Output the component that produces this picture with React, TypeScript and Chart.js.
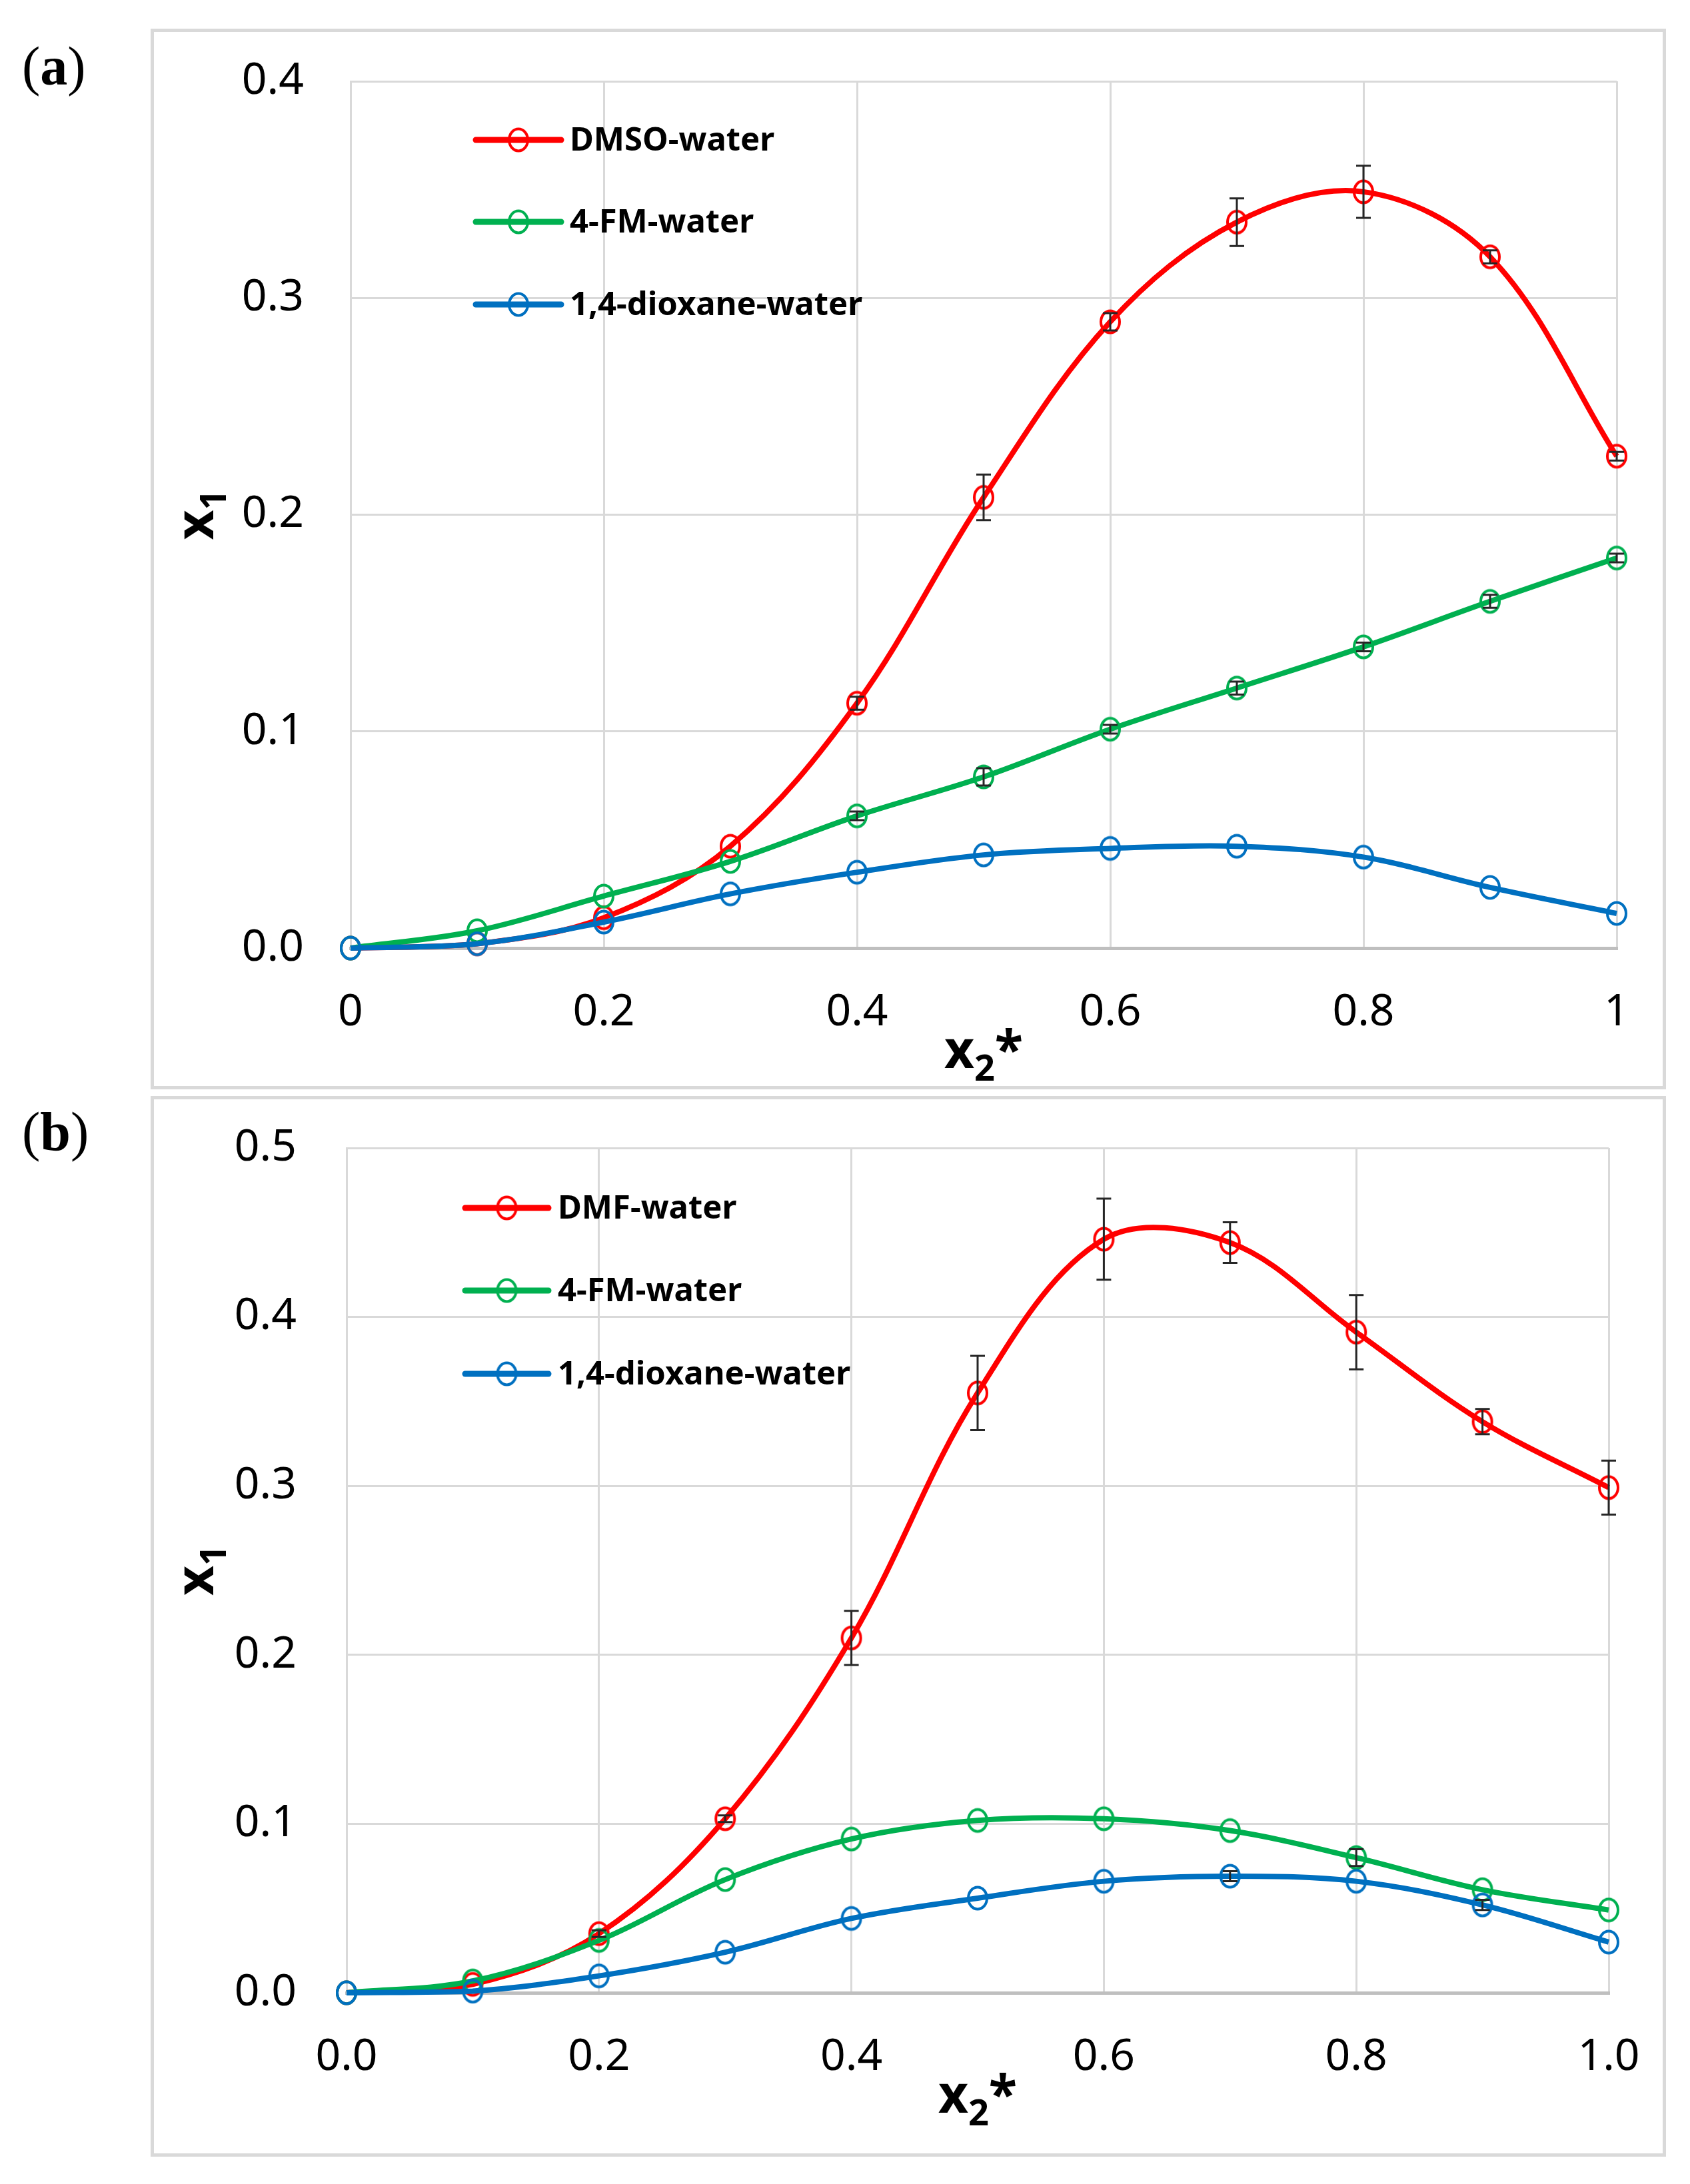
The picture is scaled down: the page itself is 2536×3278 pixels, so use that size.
import { useEffect, useRef } from 'react'
import { Chart, ChartConfiguration, registerables } from 'chart.js'

Chart.register(...registerables)

const FONT = '"Noto Sans", "DejaVu Sans", sans-serif'

// mole fraction of co-solvent (salt-free basis)
const x2Values = [0, 0.1, 0.2, 0.3, 0.4, 0.5, 0.6, 0.7, 0.8, 0.9, 1.0]

// panel (a)
const dmsoWater = [0, 0.002, 0.014, 0.047, 0.113, 0.208, 0.289, 0.335, 0.349, 0.319, 0.227]
const dmsoErr = [0, 0, 0, 0, 0.003, 0.0105, 0.004, 0.011, 0.012, 0.003, 0.002]
const fmWaterA = [0, 0.008, 0.024, 0.040, 0.061, 0.079, 0.101, 0.120, 0.139, 0.160, 0.180]
const fmErrA = [0, 0, 0, 0, 0.002, 0.004, 0.002, 0.003, 0.002, 0.003, 0.002]
const dioxaneWaterA = [0, 0.002, 0.012, 0.025, 0.035, 0.043, 0.046, 0.047, 0.042, 0.028, 0.016]
const dioxaneErrA = [0, 0, 0, 0, 0, 0, 0, 0, 0, 0, 0]

// panel (b)
const dmfWater = [0, 0.005, 0.035, 0.103, 0.210, 0.355, 0.446, 0.444, 0.391, 0.338, 0.299]
const dmfErr = [0, 0, 0.002, 0.002, 0.016, 0.022, 0.024, 0.012, 0.022, 0.0075, 0.016]
const fmWaterB = [0, 0.007, 0.031, 0.067, 0.091, 0.102, 0.103, 0.096, 0.080, 0.061, 0.049]
const fmErrB = [0, 0, 0, 0, 0, 0, 0, 0, 0.005, 0, 0]
const dioxaneWaterB = [0, 0.001, 0.010, 0.024, 0.044, 0.056, 0.066, 0.069, 0.066, 0.052, 0.030]
const dioxaneErrB = [0, 0, 0, 0, 0, 0, 0, 0.003, 0, 0.003, 0]

const RED = '#ff0000'
const GREEN = '#00b050'
const BLUE = '#0070c0'

interface Series {
  label: string
  values: number[]
  errors: number[]
  color: string
}

interface PanelLayout {
  yWidth: number
  xHeight: number
  padTop: number
  padRight: number
  yPad: number
  legendX: number
  legendRows: number[]
  legendLine: number
  legendText: number
}

// hollow, slightly tall ring marker (the figure is stretched vertically)
const markerCache: Record<string, HTMLCanvasElement> = {}
function ringMarker(color: string) {
  if (markerCache[color]) return markerCache[color]
  const c = document.createElement('canvas')
  c.width = 40
  c.height = 44
  const g = c.getContext('2d')!
  g.strokeStyle = color
  g.lineWidth = 4
  g.beginPath()
  g.ellipse(20, 22, 14, 16.5, 0, 0, Math.PI * 2)
  g.stroke()
  markerCache[color] = c
  return c
}

// error bars drawn from the scales
const errorBarPlugin = {
  id: 'errorBars',
  afterDatasetsDraw(chart: Chart) {
    const ctx = chart.ctx
    const xs = chart.scales.x
    const ys = chart.scales.y
    ctx.save()
    ctx.strokeStyle = '#262626'
    ctx.lineWidth = 3
    chart.data.datasets.forEach((ds: any) => {
      const errs: number[] = ds.errors || []
      ds.data.forEach((p: any, i: number) => {
        const e = errs[i]
        if (!e) return
        const px = xs.getPixelForValue(p.x)
        const top = ys.getPixelForValue(p.y + e)
        const bot = ys.getPixelForValue(p.y - e)
        ctx.beginPath()
        ctx.moveTo(px, top)
        ctx.lineTo(px, bot)
        ctx.moveTo(px - 11, top)
        ctx.lineTo(px + 11, top)
        ctx.moveTo(px - 11, bot)
        ctx.lineTo(px + 11, bot)
        ctx.stroke()
      })
    })
    ctx.restore()
  },
}

// legend inside the plot area, Excel style (line with a hollow marker)
const insideLegendPlugin = {
  id: 'insideLegend',
  afterDraw(chart: Chart, _args: any, opts: any) {
    const ctx = chart.ctx
    const ca = chart.chartArea
    ctx.save()
    chart.data.datasets.forEach((ds: any, i: number) => {
      const y = ca.top + opts.rows[i]
      const x0 = ca.left + opts.x
      ctx.strokeStyle = ds.borderColor
      ctx.lineWidth = 9
      ctx.lineCap = 'round'
      ctx.beginPath()
      ctx.moveTo(x0, y)
      ctx.lineTo(x0 + opts.line, y)
      ctx.stroke()
      const m = ringMarker(ds.borderColor)
      ctx.drawImage(m, x0 + opts.line / 2 - m.width / 2, y - m.height / 2)
      ctx.fillStyle = '#000'
      ctx.font = `bold 49px ${FONT}`
      ctx.textBaseline = 'middle'
      ctx.textAlign = 'left'
      ctx.fillText(ds.label, x0 + opts.text, y + 2)
    })
    ctx.restore()
  },
}

// axis titles with sub-scripts: x1 and x2*
const axisTitlePlugin = {
  id: 'axisTitles',
  afterDraw(chart: Chart, _args: any, opts: any) {
    const ctx = chart.ctx
    const ca = chart.chartArea
    const big = `bold 78px ${FONT}`
    const small = `bold 54px ${FONT}`
    ctx.save()
    ctx.fillStyle = '#000'
    ctx.textBaseline = 'alphabetic'
    ctx.textAlign = 'left'

    ctx.font = big
    const wx = ctx.measureText('x').width
    const wStar = ctx.measureText('*').width
    ctx.font = small
    const w2 = ctx.measureText('2').width
    const w1 = ctx.measureText('1').width

    let cx = (ca.left + ca.right) / 2 - (wx + w2 + wStar) / 2
    const by = ca.bottom + opts.xOffset
    ctx.font = big
    ctx.fillText('x', cx, by)
    cx += wx
    ctx.font = small
    ctx.fillText('2', cx, by + 19)
    cx += w2
    ctx.font = big
    ctx.fillText('*', cx, by)

    ctx.translate(opts.yX, (ca.top + ca.bottom) / 2)
    ctx.rotate(-Math.PI / 2)
    let rx = -(wx + w1) / 2
    ctx.font = big
    ctx.fillText('x', rx, 0)
    rx += wx
    ctx.font = small
    ctx.fillText('1', rx, 19)
    ctx.restore()
  },
}

function SolubilityChart({
  series,
  yMax,
  xLabel,
  layout,
}: {
  series: Series[]
  yMax: number
  xLabel: (v: number) => string
  layout: PanelLayout
}) {
  const canvasRef = useRef<HTMLCanvasElement>(null)
  const chartRef = useRef<Chart | null>(null)

  useEffect(() => {
    if (!canvasRef.current) return
    const ctx = canvasRef.current.getContext('2d')
    if (!ctx) return
    if (chartRef.current) chartRef.current.destroy()

    const tickFont = { family: FONT, size: 66 }
    const config: ChartConfiguration = {
      type: 'line',
      data: {
        datasets: series.map((s, i) => ({
          label: s.label,
          data: x2Values.map((x, j) => ({ x, y: s.values[j] })),
          errors: s.errors,
          borderColor: s.color,
          borderWidth: 8,
          pointStyle: ringMarker(s.color),
          pointRadius: 16,
          pointHoverRadius: 16,
          tension: 0.35,
          fill: false,
          clip: false,
          order: series.length - i,
        })) as any,
      },
      options: {
        animation: false,
        responsive: true,
        maintainAspectRatio: false,
        devicePixelRatio: 1,
        layout: { padding: 0 },
        plugins: {
          legend: { display: false },
          tooltip: { enabled: false },
          insideLegend: {
            x: layout.legendX,
            rows: layout.legendRows,
            line: layout.legendLine,
            text: layout.legendText,
          },
          axisTitles: { xOffset: 180, yX: 89 },
        } as any,
        scales: {
          x: {
            type: 'linear',
            min: 0,
            max: 1,
            ticks: {
              stepSize: 0.2,
              font: tickFont,
              color: '#000',
              padding: 58,
              maxRotation: 0,
              autoSkip: false,
              callback: (v) => xLabel(Number(v)),
            },
            grid: { color: '#d9d9d9', lineWidth: 3, drawTicks: false },
            border: { color: '#bfbfbf', width: 5 },
            afterFit: (s: any) => {
              s.height = layout.xHeight
              s.paddingLeft = 0
              s.paddingRight = layout.padRight
            },
          },
          y: {
            type: 'linear',
            min: 0,
            max: yMax,
            ticks: {
              stepSize: 0.1,
              font: tickFont,
              color: '#000',
              padding: layout.yPad,
              callback: (v) => Number(v).toFixed(1),
            },
            grid: { color: '#d9d9d9', lineWidth: 3, drawTicks: false },
            border: { color: '#d9d9d9', width: 3 },
            afterFit: (s: any) => {
              s.width = layout.yWidth
              s.paddingTop = layout.padTop
              s.paddingBottom = 0
            },
          },
        },
      },
      plugins: [errorBarPlugin, insideLegendPlugin, axisTitlePlugin],
    }

    chartRef.current = new Chart(ctx, config)
    return () => {
      chartRef.current?.destroy()
      chartRef.current = null
    }
  }, [series, yMax, xLabel, layout])

  return (
    <div style={{ width: 2264, height: 1582, position: 'relative' }}>
      <canvas ref={canvasRef} />
    </div>
  )
}

const seriesA: Series[] = [
  { label: 'DMSO-water', values: dmsoWater, errors: dmsoErr, color: RED },
  { label: '4-FM-water', values: fmWaterA, errors: fmErrA, color: GREEN },
  { label: '1,4-dioxane-water', values: dioxaneWaterA, errors: dioxaneErrA, color: BLUE },
]

const seriesB: Series[] = [
  { label: 'DMF-water', values: dmfWater, errors: dmfErr, color: RED },
  { label: '4-FM-water', values: fmWaterB, errors: fmErrB, color: GREEN },
  { label: '1,4-dioxane-water', values: dioxaneWaterB, errors: dioxaneErrB, color: BLUE },
]

const layoutA: PanelLayout = {
  yWidth: 295,
  xHeight: 207,
  padTop: 74,
  padRight: 69,
  yPad: 70,
  legendX: 188,
  legendRows: [88, 211, 335],
  legendLine: 128,
  legendText: 141,
}

const layoutB: PanelLayout = {
  yWidth: 289,
  xHeight: 241,
  padTop: 73,
  padRight: 81,
  yPad: 75,
  legendX: 178,
  legendRows: [90, 214, 339],
  legendLine: 125,
  legendText: 139,
}

const xLabelA = (v: number) => String(Number(v.toFixed(1)))
const xLabelB = (v: number) => v.toFixed(1)

function PanelLetter({ letter, top }: { letter: string; top: number }) {
  return (
    <div
      style={{
        position: 'absolute',
        left: 33,
        top,
        fontFamily: '"Liberation Serif", "Times New Roman", serif',
        fontSize: 82,
        lineHeight: '82px',
        color: '#000',
      }}
    >
      (<b>{letter}</b>)
    </div>
  )
}

const frameStyle = (top: number): React.CSSProperties => ({
  position: 'absolute',
  left: 226,
  top,
  width: 2274,
  height: 1592,
  border: '5px solid #d9d9d9',
  boxSizing: 'border-box',
  background: '#fff',
})

export default function App() {
  return (
    <div style={{ position: 'absolute', left: 0, top: 0, width: 2536, height: 3278, background: '#fff' }}>
      <PanelLetter letter="a" top={59} />
      <div style={frameStyle(43)}>
        <SolubilityChart series={seriesA} yMax={0.4} xLabel={xLabelA} layout={layoutA} />
      </div>
      <PanelLetter letter="b" top={1658} />
      <div style={frameStyle(1645)}>
        <SolubilityChart series={seriesB} yMax={0.5} xLabel={xLabelB} layout={layoutB} />
      </div>
    </div>
  )
}
